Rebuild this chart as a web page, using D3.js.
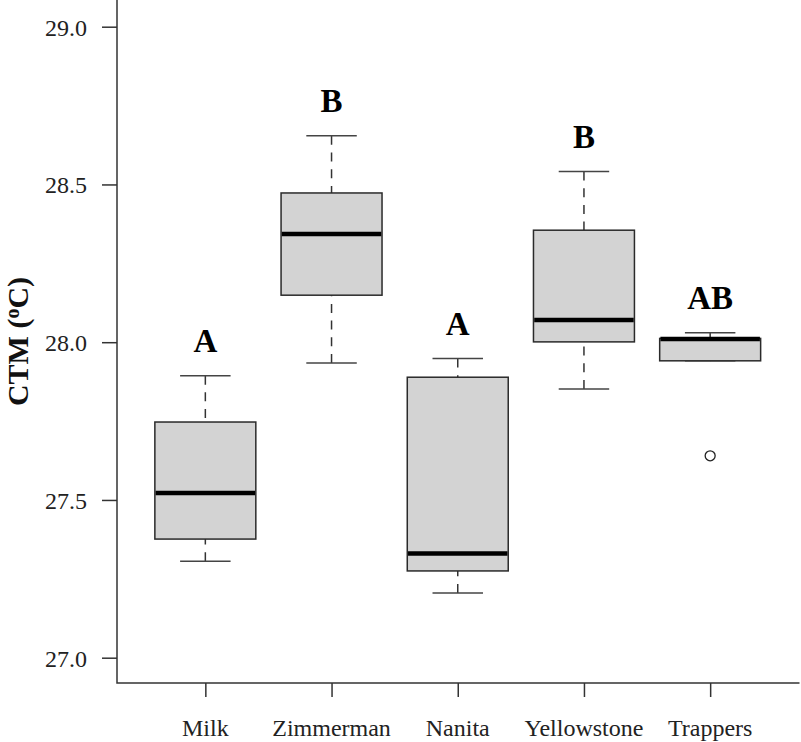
<!DOCTYPE html>
<html>
<head>
<meta charset="utf-8">
<script src="https://cdn.jsdelivr.net/npm/d3@7"></script>
<style>
  html, body { margin: 0; padding: 0; background: #fff; }
  svg { display: block; }
</style>
</head>
<body>
<div id="chart"></div>
<script>
// ---- data ----
const categories  = ["Milk", "Zimmerman", "Nanita", "Yellowstone", "Trappers"];
const whiskerLow  = [27.306, 27.934, 27.205, 27.852, 27.941];
const q1          = [27.376, 28.149, 27.275, 28.001, 27.941];
const median      = [27.522, 28.343, 27.330, 28.070, 28.010];
const q3          = [27.747, 28.473, 27.889, 28.355, 28.012];
const whiskerHigh = [27.894, 28.654, 27.948, 28.541, 28.030];
const outliers    = [[], [], [], [], [27.640]];
const letters     = ["A", "B", "A", "B", "AB"];
const yTicks      = [27.0, 27.5, 28.0, 28.5, 29.0];
const yLabel      = "CTM (";

// ---- layout ----
const W = 801, H = 742;
const plotLeft = 117, plotRight = 798.5, plotBottom = 683;
const serif = "Liberation Serif, Times New Roman, Tinos, DejaVu Serif, Noto Serif, serif";

const svg = d3.select("#chart").append("svg")
  .attr("width", W).attr("height", H)
  .attr("font-family", serif);

const y = d3.scaleLinear().domain([27, 29]).range([657.7, 26.7]);
const x = d3.scalePoint().domain(categories).range([plotLeft, plotRight]).padding(0.7);
const step = x.step();
const boxW = step * 0.8;
const capW = boxW * 0.5;

const rows = categories.map((c, i) => ({
  cat: c, lo: whiskerLow[i], q1: q1[i], med: median[i], q3: q3[i],
  hi: whiskerHigh[i], out: outliers[i], letter: letters[i]
}));

// ---- axes (tick marks via d3 axes, labels drawn as plain text) ----
const yAxis = svg.append("g")
  .attr("transform", `translate(${plotLeft},0)`)
  .call(d3.axisLeft(y).tickValues(yTicks).tickFormat("")
    .tickSize(15).tickSizeOuter(0));
yAxis.select(".domain").remove();
yAxis.selectAll(".tick text").remove();
yAxis.selectAll(".tick line").attr("stroke", "#333").attr("stroke-width", 1.5);

svg.append("g").selectAll("text").data(yTicks).join("text")
  .attr("x", plotLeft - 30).attr("y", d => y(d)).attr("dy", "0.37em")
  .attr("text-anchor", "end").attr("font-size", 24).attr("fill", "#222")
  .text(d3.format(".1f"));

const xAxis = svg.append("g")
  .attr("transform", `translate(0,${plotBottom})`)
  .call(d3.axisBottom(x).tickFormat("").tickSize(14).tickSizeOuter(0));
xAxis.select(".domain").remove();
xAxis.selectAll(".tick text").remove();
xAxis.selectAll(".tick line").attr("stroke", "#333").attr("stroke-width", 1.5);

svg.append("g").selectAll("text").data(categories).join("text")
  .attr("x", d => x(d)).attr("y", plotBottom + 52.5)
  .attr("text-anchor", "middle").attr("font-size", 24).attr("fill", "#222")
  .text(d => d);

// L-shaped frame
svg.append("path")
  .attr("d", `M${plotLeft},0 V${plotBottom} H${plotRight + 1}`)
  .attr("fill", "none").attr("stroke", "#333").attr("stroke-width", 1.5);

// y label
const lab = svg.append("text")
  .attr("transform", `translate(28,${(0 + plotBottom) / 2}) rotate(-90)`)
  .attr("text-anchor", "middle")
  .attr("font-size", 30).attr("font-weight", "bold").attr("fill", "#111");
lab.append("tspan").text(yLabel);
lab.append("tspan").attr("font-size", 20).attr("baseline-shift", "45%").text("o");
lab.append("tspan").text("C)");

// ---- boxes ----
const g = svg.append("g");
const box = g.selectAll("g.box").data(rows).join("g").attr("class", "box");

// whiskers (dashed)
box.append("line")
  .attr("x1", d => x(d.cat)).attr("x2", d => x(d.cat))
  .attr("y1", d => y(d.hi)).attr("y2", d => y(d.q3))
  .attr("stroke", "#333").attr("stroke-width", 1.5).attr("stroke-dasharray", "9,7.7");
box.append("line")
  .attr("x1", d => x(d.cat)).attr("x2", d => x(d.cat))
  .attr("y1", d => y(d.lo)).attr("y2", d => y(d.q1))
  .attr("stroke", "#333").attr("stroke-width", 1.5).attr("stroke-dasharray", "9,7.7");
// caps
box.append("line")
  .attr("x1", d => x(d.cat) - capW / 2).attr("x2", d => x(d.cat) + capW / 2)
  .attr("y1", d => y(d.hi)).attr("y2", d => y(d.hi))
  .attr("stroke", "#444").attr("stroke-width", 1.5);
box.append("line")
  .attr("x1", d => x(d.cat) - capW / 2).attr("x2", d => x(d.cat) + capW / 2)
  .attr("y1", d => y(d.lo)).attr("y2", d => y(d.lo))
  .attr("stroke", "#444").attr("stroke-width", 1.5);
// box
box.append("rect")
  .attr("x", d => x(d.cat) - boxW / 2).attr("width", boxW)
  .attr("y", d => y(d.q3)).attr("height", d => y(d.q1) - y(d.q3))
  .attr("fill", "#d3d3d3").attr("stroke", "#2a2a2a").attr("stroke-width", 1.5);
// median
box.append("line")
  .attr("x1", d => x(d.cat) - boxW / 2 + 0.75).attr("x2", d => x(d.cat) + boxW / 2 - 0.75)
  .attr("y1", d => y(d.med)).attr("y2", d => y(d.med))
  .attr("stroke", "#000").attr("stroke-width", 4.5);
// outliers
box.selectAll("circle").data(d => d.out.map(v => ({ cat: d.cat, v }))).join("circle")
  .attr("cx", d => x(d.cat)).attr("cy", d => y(d.v)).attr("r", 5)
  .attr("fill", "none").attr("stroke", "#222").attr("stroke-width", 1.3);
// significance letters
box.append("text")
  .attr("x", d => x(d.cat)).attr("y", d => y(d.hi) - 23.5)
  .attr("text-anchor", "middle").attr("font-size", 33).attr("font-weight", "bold")
  .attr("fill", "#000").text(d => d.letter);
</script>
</body>
</html>
